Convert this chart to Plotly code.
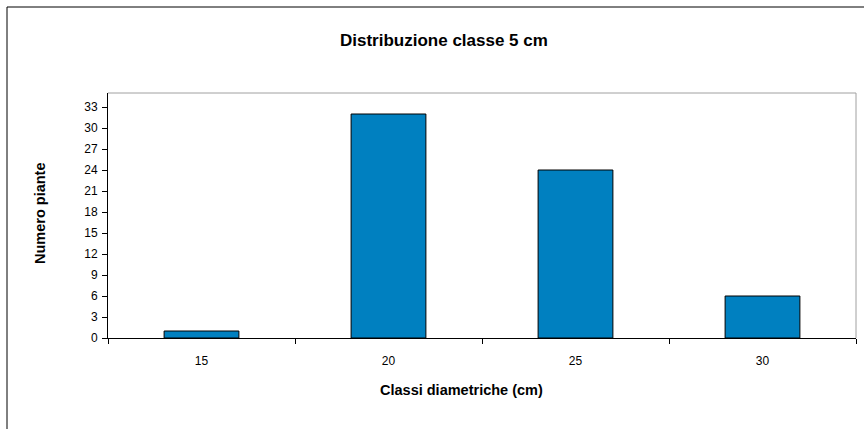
import plotly.graph_objects as go

categories = ["15", "20", "25", "30"]
values = [1, 32, 24, 6]
y_ticks = list(range(0, 34, 3))

title_text = "Distribuzione classe 5 cm"
x_title = "Classi diametriche (cm)"
y_title = "Numero piante"

W, H = 864, 429
L, R, T, B = 108, 856, 93, 338
pw, ph = R - L, B - T

def px(x):
    return (x - L) / pw

def py(y):
    return (B - y) / ph

fig = go.Figure(go.Bar(
    x=categories, y=values,
    marker=dict(color="#0080C0", line=dict(color="black", width=1)),
))

font = "Liberation Sans, Arial, sans-serif"
fig.update_layout(
    width=W, height=H,
    margin=dict(l=L, r=W - R, t=T, b=H - B),
    paper_bgcolor="white", plot_bgcolor="white",
    bargap=0.6, showlegend=False,
    font=dict(family=font, size=12, color="black"),
    xaxis=dict(type="category", tickson="boundaries", ticks="outside", ticklen=5,
               tickcolor="black", showline=True, linecolor="black", linewidth=1,
               showgrid=False, ticklabelstandoff=12, tickfont=dict(size=12, family=font)),
    yaxis=dict(range=[0, 35], tickvals=y_ticks, ticks="outside", ticklen=5,
               tickcolor="black", showline=True, linecolor="black", linewidth=1,
               showgrid=False, zeroline=False, ticklabelstandoff=2,
               tickfont=dict(size=12, family=font)),
    shapes=[
        dict(type="line", xref="paper", yref="paper", x0=0, x1=1, y0=1, y1=1,
             line=dict(color="#A0A0A0", width=1)),
        dict(type="line", xref="paper", yref="paper", x0=1, x1=1, y0=0, y1=1,
             line=dict(color="#A0A0A0", width=1)),
        dict(type="line", xref="paper", yref="paper", x0=px(7), x1=px(870), y0=py(7), y1=py(7),
             line=dict(color="black", width=1)),
        dict(type="line", xref="paper", yref="paper", x0=px(7), x1=px(7), y0=py(7), y1=py(440),
             line=dict(color="black", width=1)),
    ],
    annotations=[
        dict(text="<b>" + title_text + "</b>", xref="paper", yref="paper",
             x=px(444), y=py(41), showarrow=False, xanchor="center", yanchor="middle",
             font=dict(size=17, family=font)),
        dict(text="<b>" + x_title + "</b>", xref="paper", yref="paper",
             x=px(461), y=py(390), showarrow=False, xanchor="center", yanchor="middle",
             font=dict(size=14.5, family=font)),
        dict(text="<b>" + y_title + "</b>", xref="paper", yref="paper",
             x=px(40), y=py(213), showarrow=False, xanchor="center", yanchor="middle",
             textangle=-90, font=dict(size=14.5, family=font)),
    ],
)

fig.write_html("out.html", config={"displayModeBar": False},
               post_script="document.body.style.margin='0';document.body.style.padding='0';")
